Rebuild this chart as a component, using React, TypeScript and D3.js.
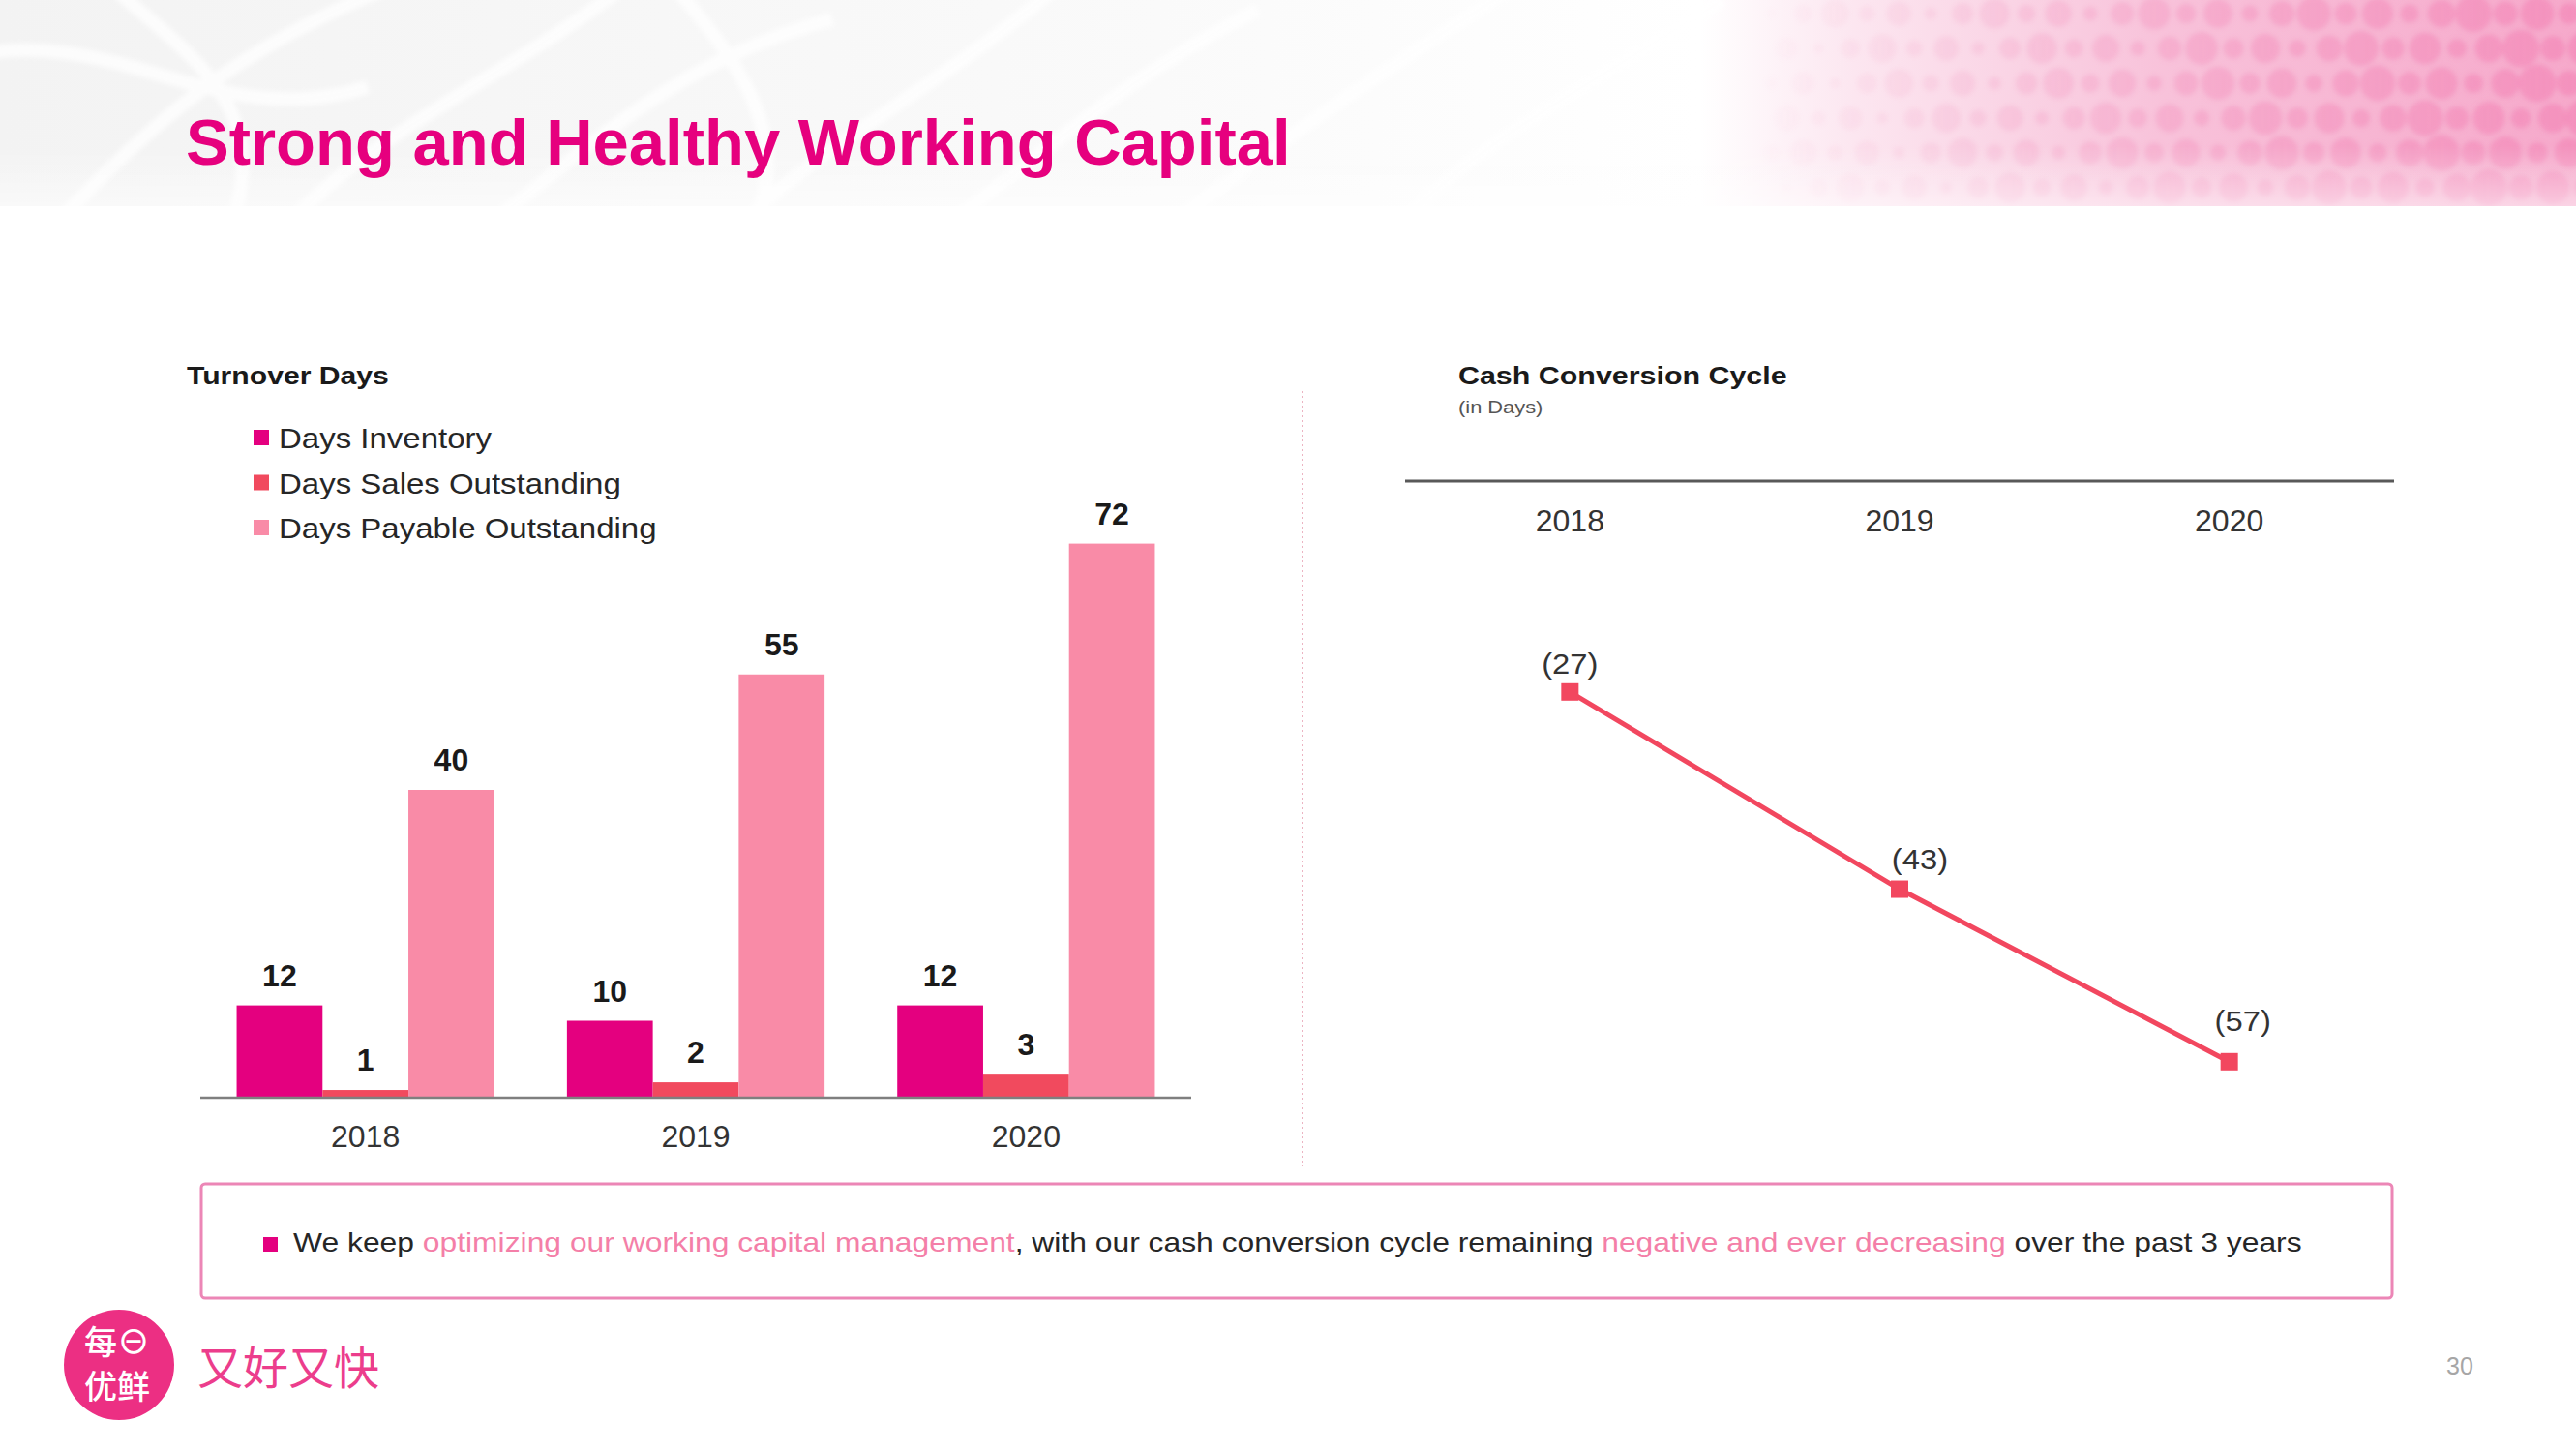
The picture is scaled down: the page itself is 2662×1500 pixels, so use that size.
import React from "react";
import * as d3 from "d3";

const years = ["2018", "2019", "2020"];
const seriesNames = ["Days Inventory", "Days Sales Outstanding", "Days Payable Outstanding"];
const daysInventory = [12, 10, 12];
const daysSales = [1, 2, 3];
const daysPayable = [40, 55, 72];
const seriesColors = ["#E4007F", "#F14A5E", "#F98BA7"];
const cccValues = [-27, -43, -57];
const cccLabels = ["(27)", "(43)", "(57)"];
const cccLabelDx = [0, 21, 14];
const cccLabelDy = [-19, -21, -32];

const FONT = "'Liberation Sans', Arial, Helvetica, sans-serif";
const CJK = "'Noto Sans CJK SC', 'Noto Sans', sans-serif";

type TP = {
  x: number; y: number; sx?: number; size: number; weight?: number | string;
  fill?: string; anchor?: "start" | "middle" | "end"; family?: string; children: React.ReactNode;
};
const T = ({ x, y, sx = 1, size, weight = 400, fill = "#262626", anchor = "start", family = FONT, children }: TP) => (
  <text
    transform={`translate(${x},${y}) scale(${sx},1)`}
    fontSize={size}
    fontWeight={weight}
    fill={fill}
    textAnchor={anchor}
    fontFamily={family}
  >
    {children}
  </text>
);

export default function App() {
  const W = 2662, H = 1500;
  // left bar chart
  const base = 1134;
  const x0 = d3.scaleBand<string>().domain(years).range([207, 1231]).paddingInner(0.22).paddingOuter(0.11);
  const x1 = d3.scaleBand<string>().domain(seriesNames).range([0, x0.bandwidth()]);
  const y = d3.scaleLinear().domain([0, 72]).range([base, base - 72 * 7.95]);
  const seriesValues = [daysInventory, daysSales, daysPayable];

  // right line chart
  const xr = d3.scalePoint<string>().domain(years).range([1452, 2474]).padding(0.5);
  const yr = d3.scaleLinear().domain([0, -60]).range([371, 1135]);
  const pts = years.map((yy, i) => [xr(yy)!, yr(cccValues[i])] as [number, number]);
  const linePath = d3.line()(pts) || "";

  // header decoration
  const dotCols = d3.range(0, 26);
  const dotRows = d3.range(0, 6);

  const leafPaths = [
    "M -40 60 C 120 20, 220 140, 380 90",
    "M 60 230 C 160 120, 260 40, 420 -20",
    "M 300 230 C 380 140, 520 80, 640 -10",
    "M 520 220 C 600 160, 700 60, 860 20",
    "M 760 240 C 840 150, 960 100, 1100 -20",
    "M 980 230 C 1080 160, 1160 80, 1300 10",
    "M 1200 240 C 1290 170, 1400 90, 1560 -10",
    "M 1450 230 C 1520 150, 1640 90, 1780 0",
    "M 120 -10 C 200 60, 280 110, 240 230",
    "M 700 -10 C 760 60, 820 140, 780 230",
  ];

  return (
    <div style={{ position: "absolute", left: 0, top: 0 }}>
      <svg width={W} height={H} style={{ display: "block", background: "#fff" }}>
        <defs>
          <linearGradient id="hdrBase" x1="0" x2="1" y1="0" y2="0">
            <stop offset="0" stopColor="#F3F3F3" />
            <stop offset="0.45" stopColor="#FAFAFA" />
            <stop offset="0.66" stopColor="#FFFFFF" />
            <stop offset="0.72" stopColor="#FCE6F0" />
            <stop offset="0.84" stopColor="#F8C2DA" />
            <stop offset="1" stopColor="#F6A9CB" />
          </linearGradient>
          <linearGradient id="dotFade" x1="0" x2="1" y1="0" y2="0">
            <stop offset="0" stopColor="#fff" stopOpacity="0" />
            <stop offset="0.4" stopColor="#fff" stopOpacity="0.4" />
            <stop offset="1" stopColor="#fff" stopOpacity="1" />
          </linearGradient>
          <mask id="dotMask">
            <rect x={1800} y={0} width={862} height={213} fill="url(#dotFade)" />
          </mask>
          <linearGradient id="hdrBottom" x1="0" x2="0" y1="0" y2="1">
            <stop offset="0" stopColor="#fff" stopOpacity="0" />
            <stop offset="1" stopColor="#fff" stopOpacity="0.5" />
          </linearGradient>
          <filter id="soft" x="-0.1" y="-0.1" width="1.2" height="1.2">
            <feGaussianBlur stdDeviation="2.5" />
          </filter>
        </defs>

        {/* header */}
        <rect x={0} y={0} width={W} height={213} fill="url(#hdrBase)" />
        <g stroke="#FFFFFF" strokeWidth={14} fill="none" opacity={0.75} filter="url(#soft)">
          {leafPaths.map((p, i) => (
            <path key={i} d={p} />
          ))}
        </g>
        <g mask="url(#dotMask)" filter="url(#soft)">
          {dotRows.map((r) =>
            dotCols.map((c) => {
              const cx = 1830 + c * 33 + (r % 2) * 16;
              const cy = 14 + r * 36;
              const rad = 5 + ((c * 7 + r * 3) % 5) * 2.2 + (c / 26) * 6;
              return <circle key={`${r}-${c}`} cx={cx} cy={cy} r={rad} fill="#F27FB2" opacity={0.55} />;
            })
          )}
        </g>
        <rect x={0} y={150} width={W} height={63} fill="url(#hdrBottom)" />

        {/* title */}
        <T x={192} y={170} size={67} weight={700} fill="#E6007E">
          Strong and Healthy Working Capital
        </T>

        {/* left chart heading + legend */}
        <T x={193} y={397} size={26} weight={700} sx={1.16} fill="#1A1A1A">
          Turnover Days
        </T>
        {seriesNames.map((s, i) => (
          <g key={s}>
            <rect x={262} y={444 + i * 46.5} width={16} height={16} fill={seriesColors[i]} />
            <T x={288} y={463 + i * 46.5} size={30} sx={1.1} fill="#262626">
              {s}
            </T>
          </g>
        ))}

        {/* bars */}
        {years.map((yy, gi) => (
          <g key={yy} transform={`translate(${x0(yy)},0)`}>
            {seriesNames.map((s, si) => {
              const v = seriesValues[si][gi];
              const bx = x1(s)!;
              return (
                <g key={s}>
                  <rect x={bx} y={y(v)} width={x1.bandwidth()} height={base - y(v)} fill={seriesColors[si]} />
                  <T x={bx + x1.bandwidth() / 2} y={y(v) - 20} size={32} weight={700} anchor="middle" fill="#1A1A1A">
                    {v}
                  </T>
                </g>
              );
            })}
          </g>
        ))}
        <line x1={207} x2={1231} y1={base} y2={base} stroke="#7F7F7F" strokeWidth={2.5} />
        {years.map((yy) => (
          <T key={yy} x={x0(yy)! + x0.bandwidth() / 2} y={1185} size={32} anchor="middle" fill="#333333">
            {yy}
          </T>
        ))}

        {/* separator */}
        <line x1={1346} x2={1346} y1={404} y2={1205} stroke="#E8A2B4" strokeWidth={1.6} strokeDasharray="2,3" />

        {/* right chart */}
        <T x={1507} y={397} size={26} weight={700} sx={1.17} fill="#1A1A1A">
          Cash Conversion Cycle
        </T>
        <T x={1507} y={427} size={19} sx={1.15} fill="#555555">
          (in Days)
        </T>
        <line x1={1452} x2={2474} y1={497} y2={497} stroke="#595959" strokeWidth={3} />
        {years.map((yy) => (
          <T key={yy} x={xr(yy)!} y={549} size={32} anchor="middle" fill="#333333">
            {yy}
          </T>
        ))}
        <path d={linePath} fill="none" stroke="#F2475F" strokeWidth={5} />
        {pts.map(([px, py], i) => (
          <g key={i}>
            <rect x={px - 9} y={py - 9} width={18} height={18} fill="#F2475F" />
            <T x={px + cccLabelDx[i]} y={py + cccLabelDy[i]} size={29} sx={1.13} anchor="middle" fill="#333333">
              {cccLabels[i]}
            </T>
          </g>
        ))}

        {/* bottom box */}
        <rect x={208} y={1223} width={2264} height={118} rx={4} fill="#FFFFFF" stroke="#EC86B6" strokeWidth={3} />
        <rect x={272} y={1278} width={15} height={15} fill="#E4007F" />
        <text
          transform="translate(303,1293) scale(1.17,1)"
          fontSize={27.2}
          fontFamily={FONT}
          fill="#262626"
        >
          <tspan>We keep </tspan>
          <tspan fill="#F47FA8">optimizing our working capital management</tspan>
          <tspan>, with our cash conversion cycle remaining </tspan>
          <tspan fill="#F47FA8">negative and ever decreasing</tspan>
          <tspan> over the past 3 years</tspan>
        </text>

        {/* logo */}
        <circle cx={123} cy={1410} r={57} fill="#EC2F83" />
        <circle cx={186} cy={1432} r={10} fill="#FFFFFF" />
        <text x={121} y={1384} fontSize={34} fontFamily={CJK} fill="#FFFFFF" textAnchor="middle" dominantBaseline="central" fontWeight={500}>
          每⊖
        </text>
        <text x={121} y={1430} fontSize={34} fontFamily={CJK} fill="#FFFFFF" textAnchor="middle" dominantBaseline="central" fontWeight={500}>
          优鲜
        </text>
        <text x={204} y={1409} fontSize={47} fontFamily={CJK} fill="#EC3D8C" dominantBaseline="central">
          又好又快
        </text>

        {/* page number */}
        <T x={2542} y={1420} size={25} anchor="middle" fill="#A6A6A6">
          30
        </T>
      </svg>
    </div>
  );
}
